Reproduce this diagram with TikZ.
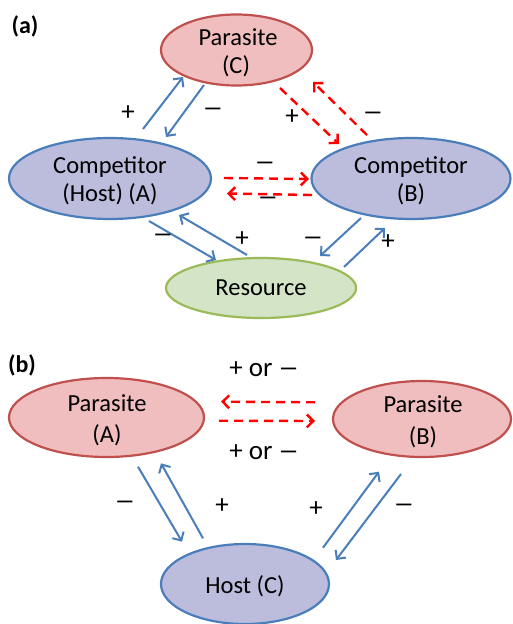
\documentclass[tikz,border=0pt]{standalone}
\usepackage{fontspec}
\usepackage{graphicx}
\setmainfont{Carlito}
\usetikzlibrary{shapes.geometric,arrows.meta}
\definecolor{pinkfill}{RGB}{240,190,190}
\definecolor{pinkline}{RGB}{192,80,77}
\definecolor{lavfill}{RGB}{188,188,220}
\definecolor{blueline}{RGB}{74,126,187}
\definecolor{greenfill}{RGB}{212,228,198}
\definecolor{greenline}{RGB}{155,187,89}
\definecolor{dashred}{RGB}{255,0,0}
\newcommand{\widemn}{\raisebox{-1.5pt}{\scalebox{1.5}[1]{−}}}
\begin{document}
\begin{tikzpicture}[x=1pt,y=-1pt,
 oval/.style={ellipse, draw, line width=2.2pt, inner sep=0pt},
 para/.style={oval, fill=pinkfill, draw=pinkline},
 comp/.style={oval, fill=lavfill, draw=blueline},
 res/.style={oval, fill=greenfill, draw=greenline},
 txt/.style={anchor=base, font=\fontsize{24.5}{28}\selectfont, inner sep=0pt},
 sgn/.style={font=\fontsize{27}{30}\selectfont, inner sep=0pt},
 orlbl/.style={anchor=base, font=\fontsize{27}{30}\selectfont, inner sep=0pt},
 lbl/.style={anchor=base, font=\fontsize{24}{26}\selectfont\bfseries, inner sep=0pt},
 barb/.style={-{Straight Barb[length=6.5pt,width=13pt]}},
 bluearr/.style={barb, draw=blueline, line width=2pt},
 redarr/.style={barb, draw=dashred, line width=2.4pt, dash pattern=on 9pt off 6pt},
]
\useasboundingbox[fill=white] (0,0) rectangle (512,624);

% ---------- (a) ----------
\node[lbl] (la) at (25,33) {(a)};
\node[para, minimum width=151pt, minimum height=71pt] (C) at (236.5,50) {};
\node[comp, minimum width=202pt, minimum height=81pt] (A) at (110,178.5) {};
\node[comp, minimum width=199pt, minimum height=81pt] (B) at (411,178.5) {};
\node[res, minimum width=190pt, minimum height=60pt] (R) at (261,288) {};
\node[txt] (Ct1) at (238,45) {Parasite};
\node[txt] (Ct2) at (236,73) {(C)};
\node[txt] (At1) at (110,173.3) {Competitor};
\node[txt] (At2) at (110,201.7) {(Host) (A)};
\node[txt] (Bt1) at (411,173.3) {Competitor};
\node[txt] (Bt2) at (411,201.7) {(B)};
\node[txt] (Rt) at (261,295.5) {Resource};

\coordinate (a1s) at (143,129); \coordinate (a1e) at (183,77);
\coordinate (a2s) at (204,85);  \coordinate (a2e) at (166,137);
\coordinate (a3s) at (280,88);  \coordinate (a3e) at (339,144);
\coordinate (a4s) at (367,135); \coordinate (a4e) at (313,82);
\coordinate (a5s) at (224,178); \coordinate (a5e) at (309,179);
\coordinate (a6s) at (312,195); \coordinate (a6e) at (227,193.5);
\coordinate (a7s) at (149,221); \coordinate (a7e) at (216,260);
\coordinate (a8s) at (247,255); \coordinate (a8e) at (179,215);
\coordinate (a9s) at (361,218); \coordinate (a9e) at (320,256);
\coordinate (a10s) at (344,267); \coordinate (a10e) at (385,228);

\draw[bluearr] (a1s) -- (a1e);
\draw[bluearr] (a2s) -- (a2e);
\draw[redarr] (a3s) -- (a3e);
\draw[redarr] (a4s) -- (a4e);
\draw[redarr] (a5s) -- (a5e);
\draw[redarr] (a6s) -- (a6e);
\draw[bluearr] (a7s) -- (a7e);
\draw[bluearr] (a8s) -- (a8e);
\draw[bluearr] (a9s) -- (a9e);
\draw[bluearr] (a10s) -- (a10e);

\node[sgn] (s1) at (128,113) {+};
\node[sgn] (s2) at (213,113) {\widemn};
\node[sgn] (s3) at (292,117) {+};
\node[sgn] (s4) at (373,117) {\widemn};
\node[sgn] (s5) at (265,167) {\widemn};
\node[sgn] (s6) at (268,202) {\widemn};
\node[sgn] (s7) at (163,239) {\widemn};
\node[sgn] (s8) at (242,239) {+};
\node[sgn] (s9) at (313,242) {\widemn};
\node[sgn] (s10) at (388,242) {+};

% ---------- (b) ----------
\node[lbl] (lb) at (22,372) {(b)};
\node[para, minimum width=195pt, minimum height=79pt] (PA) at (106.5,417.5) {};
\node[para, minimum width=178pt, minimum height=76pt] (PB) at (422,419) {};
\node[comp, minimum width=168pt, minimum height=80pt] (H) at (245,584) {};
\node[txt] (PAt1) at (107,411) {Parasite};
\node[txt] (PAt2) at (107,442.7) {(A)};
\node[txt] (PBt1) at (423,412.7) {Parasite};
\node[txt] (PBt2) at (423,444.3) {(B)};
\node[txt] (Ht) at (245,593.3) {Host (C)};
\node[orlbl] (o1) at (264,376) {+ or \widemn};
\node[orlbl] (o2) at (264,459) {+ or \widemn};

\coordinate (b1s) at (315,402.3); \coordinate (b1e) at (221,401.7);
\coordinate (b2s) at (219,420.7); \coordinate (b2e) at (315,421);
\coordinate (b3s) at (138,466.7); \coordinate (b3e) at (182,541.7);
\coordinate (b4s) at (203,538.3); \coordinate (b4e) at (161,463.3);
\coordinate (b5s) at (323,547.7); \coordinate (b5e) at (379,471.7);
\coordinate (b6s) at (401,474);   \coordinate (b6e) at (336,560);

\draw[redarr] (b1s) -- (b1e);
\draw[redarr] (b2s) -- (b2e);
\draw[bluearr] (b3s) -- (b3e);
\draw[bluearr] (b4s) -- (b4e);
\draw[bluearr] (b5s) -- (b5e);
\draw[bluearr] (b6s) -- (b6e);

\node[sgn] (t1) at (125,506) {\widemn};
\node[sgn] (t2) at (222,506) {+};
\node[sgn] (t3) at (316,509) {+};
\node[sgn] (t4) at (404,509) {\widemn};
\end{tikzpicture}
\end{document}
